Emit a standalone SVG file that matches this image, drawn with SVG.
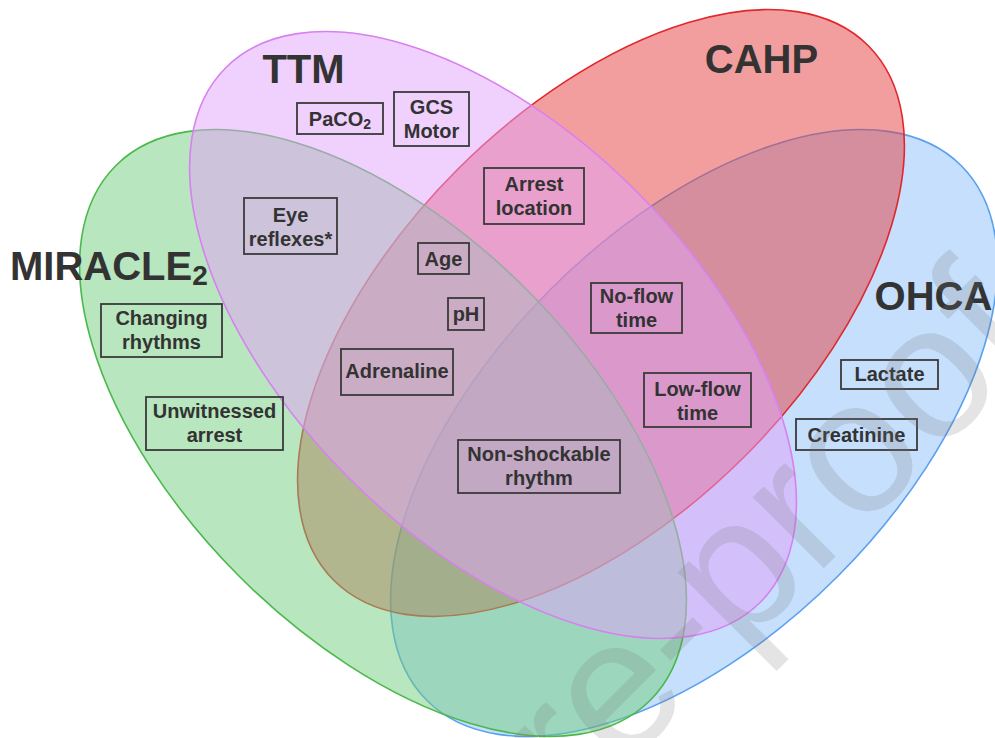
<svg xmlns="http://www.w3.org/2000/svg" width="995" height="738" viewBox="0 0 995 738">
<style>
.set{fill-opacity:0.5;stroke-width:1.6}
.box{fill:none;stroke:#3a3a3a;stroke-width:1.8}
.lbl{font-family:"Liberation Sans",Arial,sans-serif;font-weight:bold;font-size:20px;fill:#333;text-anchor:middle}
.title{font-family:"Liberation Sans",Arial,sans-serif;font-weight:bold;font-size:40px;fill:#333}
.wm{font-family:"Liberation Sans",Arial,sans-serif;font-size:190px;fill:#777;fill-opacity:0.2}
</style>
<rect width="995" height="738" fill="#fff"/>
<g id="sets">
  <ellipse id="set-ohca" class="set" cx="0" cy="0" rx="378" ry="203" transform="translate(694 433) rotate(-45)" fill="#8bbff9" stroke="#5aa0f0"/>
  <ellipse id="set-cahp" class="set" cx="0" cy="0" rx="378" ry="203" transform="translate(601 313) rotate(-45)" fill="#e53d3d" stroke="#e0282c"/>
  <ellipse id="set-miracle" class="set" cx="0" cy="0" rx="378" ry="203" transform="translate(383 433) rotate(45)" fill="#71cd7d" stroke="#4cb84c"/>
  <ellipse id="set-ttm" class="set" cx="0" cy="0" rx="378" ry="203" transform="translate(493 335) rotate(45)" fill="#e1a1f9" stroke="#d880f0"/>
</g>
<g id="titles">
  <text id="title-ttm" class="title" x="303.5" y="83" text-anchor="middle">TTM</text>
  <text id="title-cahp" class="title" x="761.5" y="73" text-anchor="middle">CAHP</text>
  <text id="title-ohca" class="title" x="933.5" y="310" text-anchor="middle">OHCA</text>
  <text id="title-miracle" class="title" x="10" y="280">MIRACLE<tspan font-size="28" dy="5">2</tspan></text>
</g>
<g id="paco2"><rect class="box" x="297" y="103" width="86" height="31"/><text class="lbl" x="340" y="125.5">PaCO<tspan font-size="14" dy="3">2</tspan></text></g>
<g id="gcs-motor"><rect class="box" x="394" y="92" width="75" height="54"/><text class="lbl" x="431.5" y="114">GCS</text><text class="lbl" x="431.5" y="138">Motor</text></g>
<g id="arrest-location"><rect class="box" x="484" y="168" width="100" height="56"/><text class="lbl" x="534" y="191">Arrest</text><text class="lbl" x="534" y="215">location</text></g>
<g id="eye-reflexes"><rect class="box" x="244" y="198" width="93" height="56"/><text class="lbl" x="290.5" y="222">Eye</text><text class="lbl" x="290.5" y="246">reflexes*</text></g>
<g id="age"><rect class="box" x="418" y="243" width="51" height="31"/><text class="lbl" x="443.5" y="265.5">Age</text></g>
<g id="ph"><rect class="box" x="448" y="298" width="36" height="32"/><text class="lbl" x="466" y="321">pH</text></g>
<g id="adrenaline"><rect class="box" x="341" y="349" width="112" height="46"/><text class="lbl" x="397" y="378">Adrenaline</text></g>
<g id="changing-rhythms"><rect class="box" x="101" y="304" width="121" height="53"/><text class="lbl" x="161.5" y="325">Changing</text><text class="lbl" x="161.5" y="349">rhythms</text></g>
<g id="unwitnessed-arrest"><rect class="box" x="146" y="397" width="137" height="53"/><text class="lbl" x="214.5" y="418">Unwitnessed</text><text class="lbl" x="214.5" y="442">arrest</text></g>
<g id="no-flow-time"><rect class="box" x="591" y="283" width="91" height="50"/><text class="lbl" x="636.5" y="303">No-flow</text><text class="lbl" x="636.5" y="327">time</text></g>
<g id="low-flow-time"><rect class="box" x="644" y="373" width="107" height="54"/><text class="lbl" x="697.5" y="396">Low-flow</text><text class="lbl" x="697.5" y="420">time</text></g>
<g id="non-shockable-rhythm"><rect class="box" x="458" y="440" width="162" height="53"/><text class="lbl" x="539" y="461">Non-shockable</text><text class="lbl" x="539" y="485">rhythm</text></g>
<g id="lactate"><rect class="box" x="841" y="360" width="97" height="29"/><text class="lbl" x="889.5" y="381">Lactate</text></g>
<g id="creatinine"><rect class="box" x="796" y="419" width="121" height="31"/><text class="lbl" x="856.5" y="441.5">Creatinine</text></g>
<g id="connectors"></g>
<text class="wm" x="486" y="906" transform="rotate(-45 486 906)">Pre-proof</text>
</svg>
